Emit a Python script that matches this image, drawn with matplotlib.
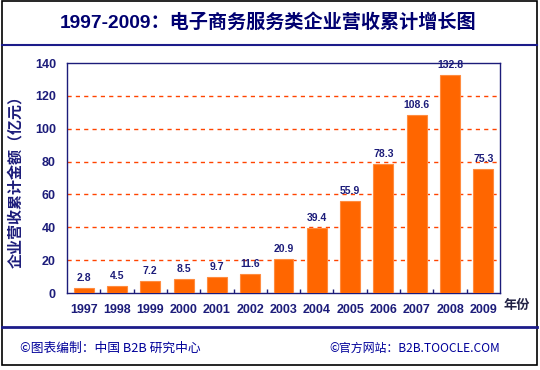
import matplotlib
matplotlib.use("Agg")
import matplotlib.pyplot as plt
from matplotlib.lines import Line2D
from matplotlib.patches import Rectangle

years = ["1997", "1998", "1999", "2000", "2001", "2002", "2003",
         "2004", "2005", "2006", "2007", "2008", "2009"]
values = [2.8, 4.5, 7.2, 8.5, 9.7, 11.6, 20.9, 39.4, 55.9, 78.3, 108.6, 132.8, 75.3]
yticks = [0, 20, 40, 60, 80, 100, 120, 140]

FONT = ["Liberation Sans", "Noto Sans CJK SC", "DejaVu Sans"]
CJK = ["Noto Sans CJK SC", "DejaVu Sans"]
plt.rcParams["font.family"] = FONT

navy = "#1c1c7a"
orange = "#ff6600"

fig = plt.figure(figsize=(5.4, 3.7), dpi=100)
fig.patch.set_facecolor("white")

ax = fig.add_axes([67/540, 1-293/370, 433/540, 230/370])
x = range(len(years))
bars = ax.bar(x, values, width=0.6, color=orange, edgecolor="#ff8c40", linewidth=0.8, zorder=3)
for xi, v in zip(x, values):
    ax.text(xi, v + 3, f"{v}", ha="center", va="bottom", fontsize=7.5,
            fontweight="bold", color=navy, zorder=4)

ax.set_xlim(-0.5, len(years) - 0.5)
ax.set_ylim(0, 140)
ax.set_yticks(yticks)
ax.set_yticklabels([str(t) for t in yticks], fontsize=9, fontweight="bold", color=navy)
ax.set_xticks(list(x))
ax.set_xticklabels(years, fontsize=9, fontweight="bold", color=navy)
ax.tick_params(axis="x", length=0, pad=8)
ax.tick_params(axis="y", length=0, pad=8)
# minor ticks between categories
ax.set_xticks([i + 0.5 for i in range(len(years) - 1)], minor=True)
ax.tick_params(axis="x", which="minor", direction="in", length=3, color=navy, width=1)

for t in yticks[1:-1]:
    ax.axhline(t, color="#ff4400", linestyle=(0, (3, 3)), linewidth=1, zorder=1)

for s in ax.spines.values():
    s.set_color(navy)
    s.set_linewidth(1)

ax.set_ylabel("企业营收累计金额（亿元）", family=CJK, fontsize=10.8, fontweight="bold",
              color=navy, labelpad=8)

fig.text(517/540, 1-305/370, "年份", family=CJK, fontsize=9.5, fontweight="bold",
         color="#222244", ha="center", va="center")

fig.text(268/540, 1-22/370, "1997-2009：电子商务服务类企业营收累计增长图", family=FONT,
         fontsize=13.8, fontweight="bold", color="#000070", ha="center", va="center")

fig.text(20/540, 1-348/370, "©图表编制：中国 B2B 研究中心", family=CJK, fontsize=9.2,
         color="#000099", ha="left", va="center")
fig.text(329/540, 1-348/370, "©官方网站：B2B.TOOCLE.COM", family=CJK, fontsize=8.6,
         color="#000099", ha="left", va="center")

# frame lines
fig.add_artist(Rectangle((2/540, 5/370), 535/540, 364/370, transform=fig.transFigure,
                         fill=False, edgecolor="black", linewidth=1.2))
fig.add_artist(Line2D([2/540, 537/540], [1-45/370, 1-45/370], transform=fig.transFigure,
                      color="#1c1c8a", linewidth=1.5))
fig.add_artist(Line2D([2/540, 537/540], [1-327/370, 1-327/370], transform=fig.transFigure,
                      color="#1c1c8a", linewidth=2))

fig.savefig("out.png", dpi=100)
